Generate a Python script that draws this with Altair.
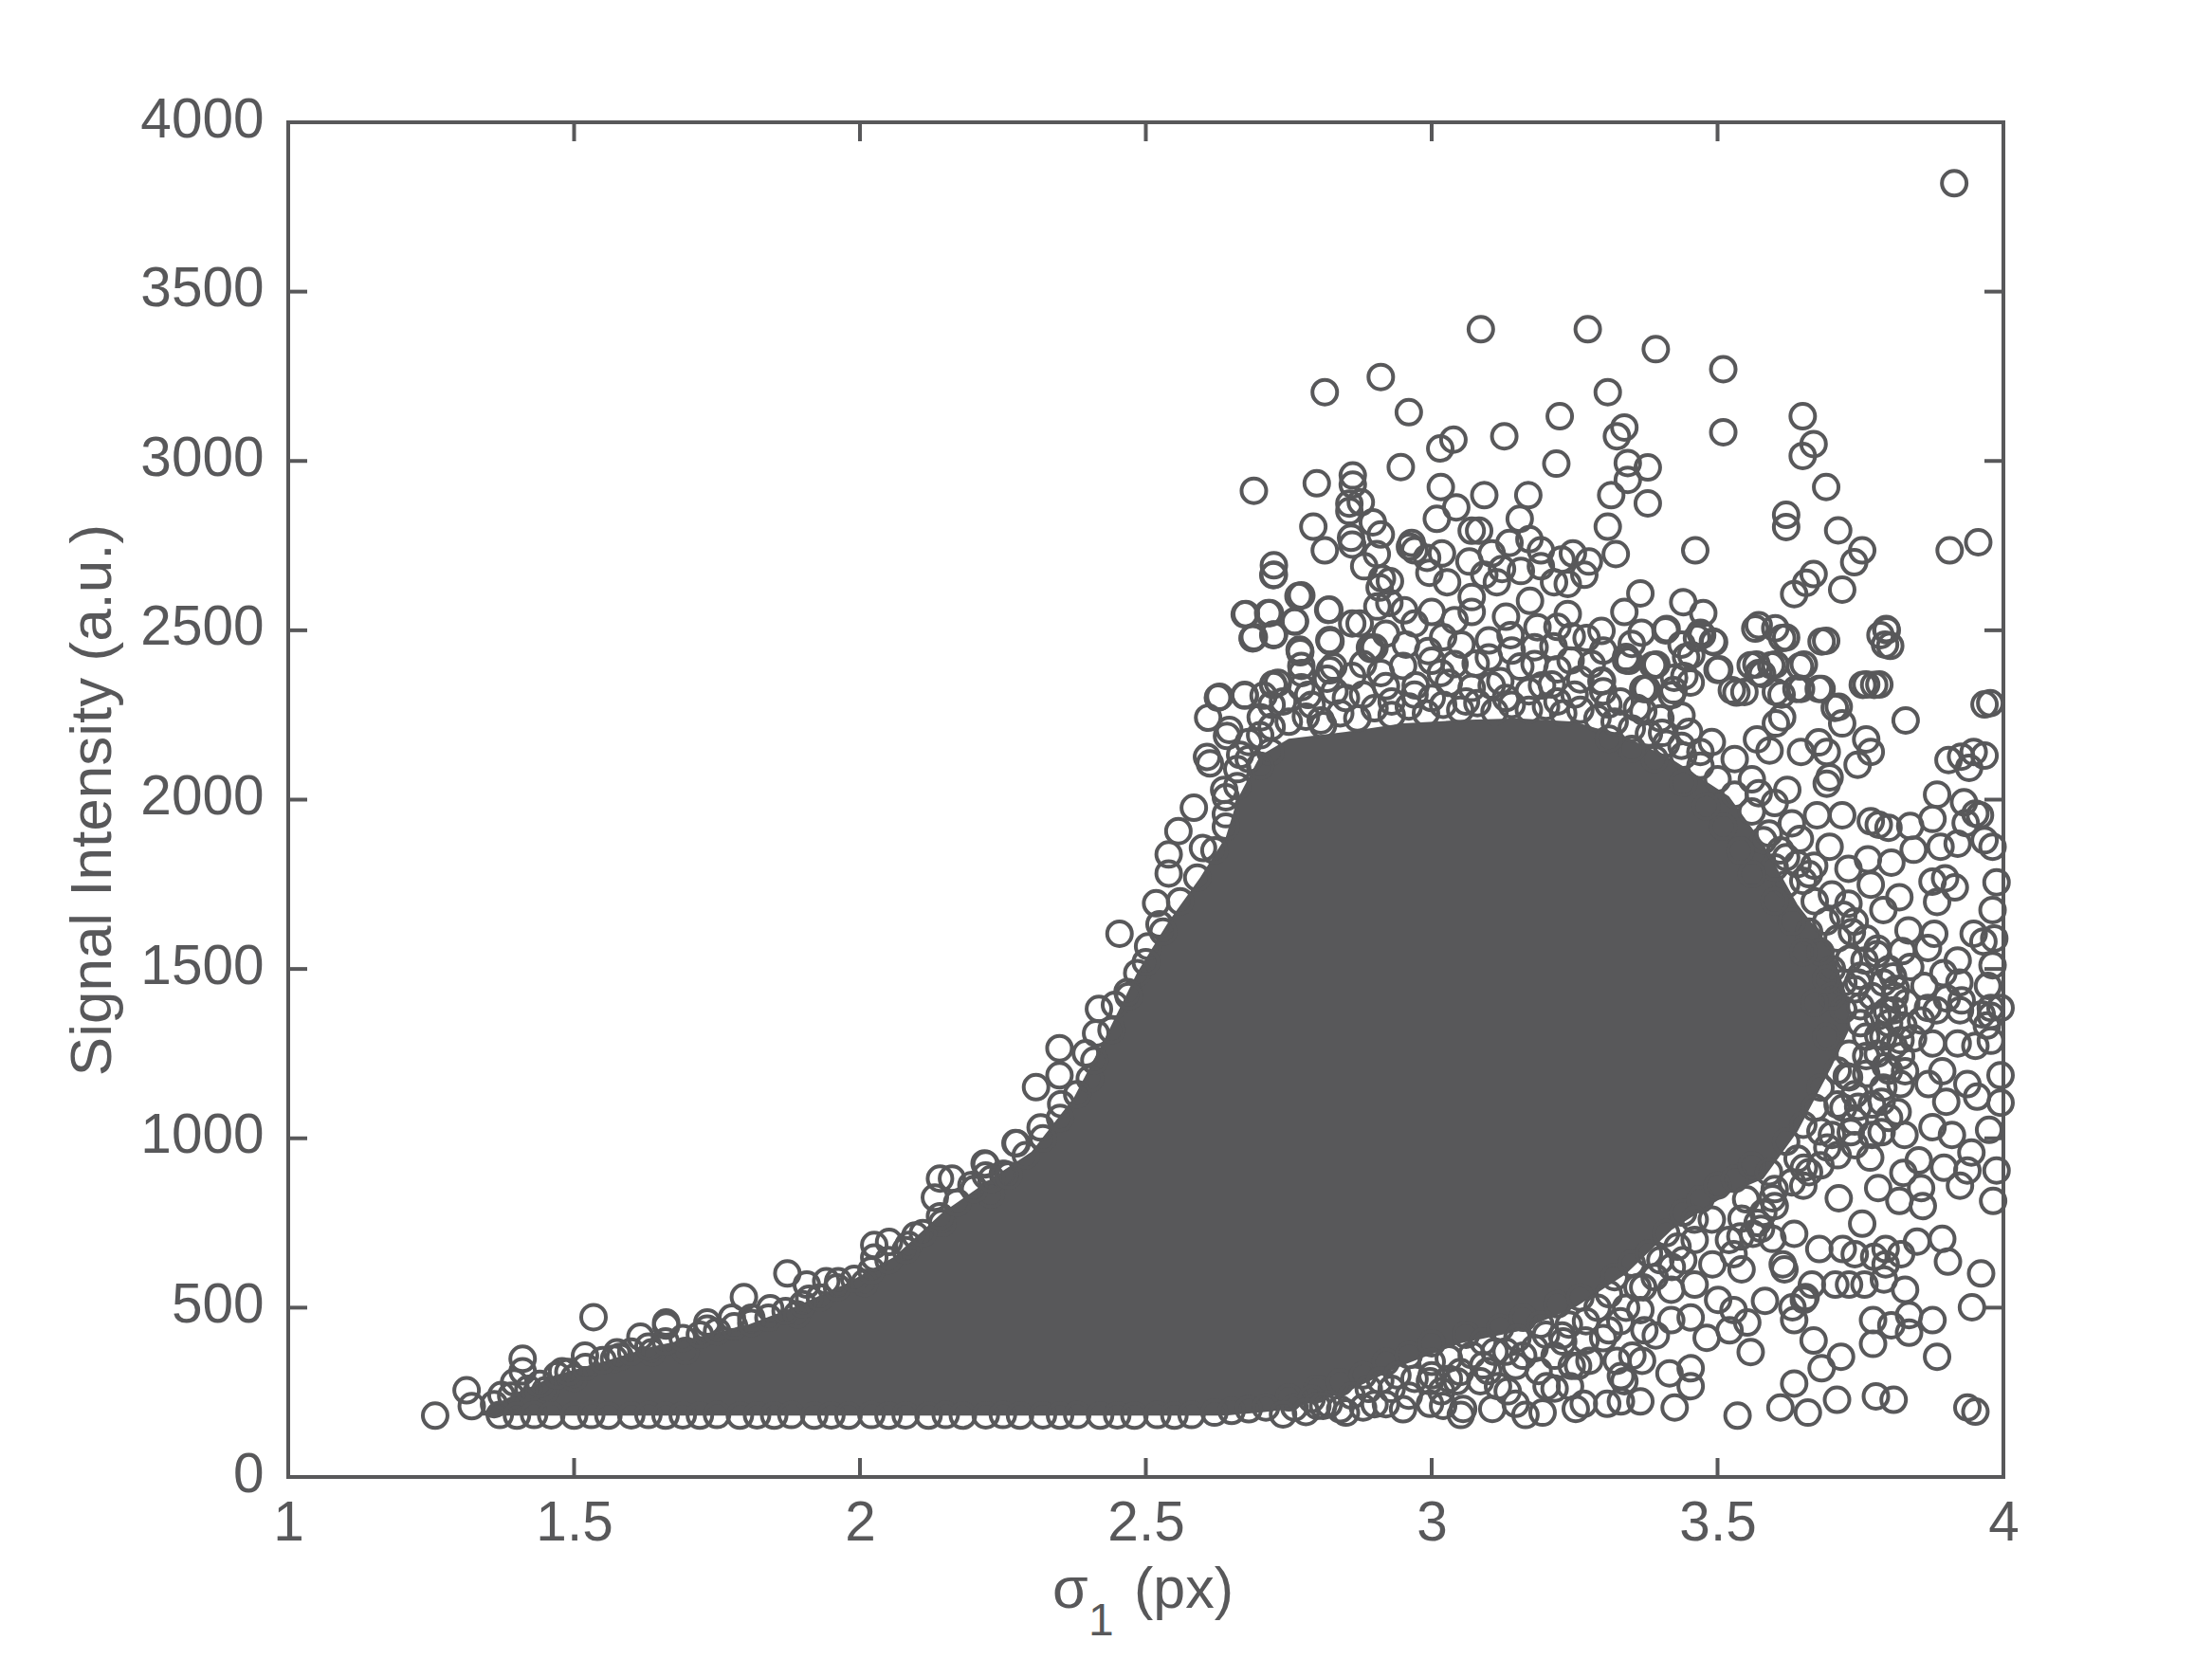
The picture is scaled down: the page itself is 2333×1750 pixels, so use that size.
import altair as alt
import pandas as pd

INK = "#58585A"
FONT = "Liberation Sans"

x_ticks = [1, 1.5, 2, 2.5, 3, 3.5, 4]
y_ticks = [0, 500, 1000, 1500, 2000, 2500, 3000, 3500, 4000]

# outline of the region where the rings merge into a solid mass
mass_x = [1.34, 1.38, 1.466, 1.55, 1.636, 1.72, 1.805, 1.89, 1.975, 2.06, 2.144, 2.229, 2.30, 2.374, 2.43, 2.485,
          2.54, 2.595, 2.64, 2.66, 2.70, 2.75, 2.85, 2.95, 3.05, 3.15, 3.25, 3.34, 3.42, 3.52, 3.58, 3.64, 3.70, 3.73]
mass_hi = [190, 230, 300, 340, 385, 415, 450, 505, 570, 650, 780, 880, 960, 1120, 1300, 1490,
           1640, 1770, 1890, 2000, 2130, 2180, 2200, 2225, 2235, 2240, 2230, 2185, 2120, 2010, 1870, 1690, 1560, 1395]
mass_lo = [181, 181, 181, 181, 181, 181, 181, 181, 181, 181, 181, 181, 181, 181, 181, 181,
           181, 181, 181, 185, 190, 200, 250, 330, 395, 430, 500, 600, 730, 838, 880, 1020, 1213, 1320]

top_points = [
    (3.914, 3820), (3.086, 3389), (3.273, 3389), (3.392, 3330), (3.51, 3271), (2.813, 3203), (2.911, 3248), (3.308, 3203),
    (2.96, 3144), (3.224, 3132), (3.127, 3073), (3.337, 3099), (3.324, 3073), (3.649, 3132), (3.51, 3085), (3.668, 3050),
    (3.649, 3015), (3.038, 3063), (3.015, 3037), (2.946, 2982), (3.218, 2992), (3.343, 2994), (3.378, 2981), (3.343, 2944),
    (2.862, 2957), (2.862, 2930), (2.689, 2912), (2.799, 2934), (3.016, 2923), (3.092, 2899), (3.169, 2899), (3.314, 2899),
    (3.378, 2875), (3.69, 2923), (2.856, 2874), (2.876, 2878), (2.856, 2852), (3.043, 2863), (3.009, 2829), (3.154, 2829),
    (3.62, 2841), (3.62, 2805), (3.711, 2795), (3.308, 2806), (2.793, 2806), (2.897, 2819), (2.911, 2783), (3.07, 2794),
    (3.083, 2794), (2.813, 2736), (2.859, 2773), (2.861, 2753), (2.965, 2758), (2.962, 2747), (3.753, 2736), (3.739, 2701),
    (3.668, 2666), (3.655, 2640), (3.634, 2607), (3.718, 2620), (3.906, 2736), (3.956, 2760), (3.461, 2736), (3.322, 2725),
    (3.018, 2727), (2.904, 2725), (2.882, 2689), (2.724, 2692), (2.724, 2664), (3.136, 2758), (3.171, 2769), (3.105, 2727),
    (3.066, 2703), (3.191, 2736), (3.247, 2727), (3.275, 2703), (3.227, 2709), (3.156, 2675), (3.191, 2689), (3.267, 2664),
    (3.238, 2637), (3.214, 2642), (3.114, 2642), (3.092, 2664), (3.123, 2681), (2.996, 2670), (3.027, 2642), (2.97, 2736),
    (2.992, 2714), (2.913, 2653), (2.909, 2626), (2.772, 2603), (2.675, 2548), (2.717, 2551), (2.689, 2480), (2.724, 2487),
    (2.76, 2526), (2.821, 2561), (2.821, 2471), (2.769, 2443), (2.874, 2520), (2.9, 2449), (2.926, 2581), (2.952, 2559),
    (3.0, 2554), (3.07, 2598), (3.07, 2554), (3.172, 2587), (3.185, 2509), (3.238, 2548), (3.245, 2482), (3.297, 2498),
    (3.337, 2554), (3.365, 2609), (3.367, 2493), (3.411, 2504), (3.44, 2583), (3.475, 2551), (3.47, 2493), (3.494, 2465),
    (3.345, 2410), (3.393, 2399), (3.454, 2427), (3.503, 2385), (3.572, 2515), (3.601, 2506), (3.62, 2479), (3.69, 2469),
    (3.795, 2504), (3.802, 2454), (3.651, 2399), (3.568, 2399), (3.601, 2399), (3.578, 2371), (3.682, 2327), (3.638, 2327),
    (3.76, 2340), (3.783, 2340), (3.977, 2285), (3.712, 2274), (3.612, 2310), (3.533, 2316), (3.424, 2360), (3.376, 2327),
    (3.297, 2349),
]

band_points = [
    (2.687, 2477), (2.723, 2486), (2.770, 2435), (2.823, 2467), (2.892, 2449), (2.955, 2458), (2.994, 2439), (3.052, 2458),
    (3.138, 2486), (3.213, 2453), (3.271, 2477), (3.340, 2411), (3.390, 2397), (3.373, 2327), (3.298, 2351), (3.437, 2458),
    (3.473, 2486), (3.442, 2365), (3.420, 2309), (3.437, 2248), (3.453, 2346), (2.629, 2304), (2.673, 2309), (2.723, 2341),
    (2.646, 2206), (2.773, 2374), (2.828, 2393), (2.861, 2365), (2.784, 2309), (2.701, 2243), (2.806, 2234), (2.718, 2141),
    (2.911, 2374), (2.972, 2337), (3.016, 2374), (3.077, 2402), (3.105, 2337), (3.155, 2393), (3.193, 2337), (3.243, 2411),
    (3.260, 2355), (3.309, 2281), (3.359, 2271), (3.403, 2197), (3.437, 2159), (3.470, 2141), (2.637, 2029),
    (2.85, 2300), (2.93, 2290), (3.0, 2300), (3.06, 2290), (3.13, 2300), (3.22, 2290),
]

right_points = [
    (3.409, 2500), (3.464, 2477), (3.492, 2467), (3.340, 2421), (3.387, 2397), (3.500, 2383), (3.445, 2421), (3.370, 2327),
    (3.423, 2323), (3.525, 2323), (3.547, 2318), (3.558, 2397), (3.594, 2397), (3.572, 2374), (3.644, 2393), (3.646, 2327),
    (3.677, 2327), (3.705, 2271), (3.718, 2225), (3.602, 2318), (3.613, 2243), (3.602, 2225), (3.754, 2339), (3.774, 2339),
    (3.829, 2234), (3.967, 2281), (3.682, 2467), (3.566, 2505), (3.613, 2477), (3.793, 2458), (3.785, 2486), (3.796, 2500),
    (3.760, 2178), (3.768, 2141), (3.745, 2103), (3.677, 2169), (3.691, 2141), (3.646, 2141), (3.696, 2066), (3.691, 2047),
    (3.591, 2145), (3.569, 2178), (3.572, 2019), (3.622, 2029), (3.904, 2117), (3.926, 2127), (3.948, 2141), (3.967, 2130),
    (3.940, 2094), (3.884, 2015), (3.931, 1992), (3.876, 1943), (3.959, 1954), (3.934, 1931), (3.951, 1959), (3.718, 1954),
    (3.674, 1954), (3.768, 1936), (3.782, 1926), (3.799, 1917), (3.837, 1922), (3.644, 1884), (3.696, 1861), (3.843, 1852),
    (3.890, 1861), (3.920, 1870), (3.967, 1880), (3.981, 1861), (3.804, 1814), (3.669, 1805), (3.729, 1796), (3.763, 1824),
    (3.768, 1749), (3.876, 1758), (3.898, 1768), (3.915, 1741), (3.884, 1698), (3.988, 1756), (3.981, 1674), (3.818, 1712),
    (3.729, 1693), (3.790, 1674), (3.735, 1609), (3.834, 1614), (3.879, 1604), (3.948, 1604), (3.965, 1581), (3.984, 1590),
    (3.779, 1544), (3.823, 1553), (3.868, 1562), (3.757, 1525), (3.807, 1478), (3.837, 1506), (3.920, 1525), (3.895, 1488),
    (3.862, 1450), (3.981, 1511), (3.973, 1450), (3.923, 1460), (3.901, 1413), (3.812, 1441), (3.746, 1460), (3.868, 1385),
    (3.796, 1376), (3.978, 1385), (3.962, 1366), (3.995, 1385), (3.978, 1362), (3.971, 1333), (3.978, 1288), (3.951, 1273),
    (3.92, 1280), (3.927, 1407), (3.924, 1378), (3.883, 1378), (3.876, 1280), (3.842, 1295), (3.825, 1333), (3.856, 1348),
    (3.808, 1378), (3.781, 1303), (3.821, 1243), (3.794, 1213), (3.995, 1186), (3.995, 1105), (3.937, 1160), (3.954, 1123),
    (3.9, 1108), (3.893, 1198), (3.869, 1160), (3.828, 1198),
]

lower_right_points = [
    (3.975, 1025), (3.988, 905), (3.982, 815), (3.924, 860), (3.944, 958), (3.937, 905), (3.896, 913), (3.876, 1033),
    (3.91, 1010), (3.827, 1010), (3.852, 935), (3.825, 898), (3.856, 853), (3.859, 800), (3.818, 815), (3.893, 703),
    (3.903, 636), (3.849, 695), (3.821, 658), (3.961, 601), (3.945, 501), (3.828, 553), (3.791, 583), (3.757, 568),
    (3.73, 568), (3.876, 463), (3.835, 478), (3.804, 448), (3.772, 463), (3.772, 393), (3.835, 426), (3.884, 355),
    (3.716, 355), (3.682, 321), (3.668, 403), (3.634, 463), (3.654, 531), (3.631, 501), (3.558, 369), (3.634, 276),
    (3.61, 205), (3.658, 190), (3.709, 228), (3.777, 238), (3.808, 228), (3.937, 205), (3.951, 193), (3.535, 181),
    (3.425, 205), (3.453, 321), (3.453, 268), (3.416, 306), (3.583, 520), (3.552, 456), (3.521, 433), (3.481, 411),
    (3.614, 628), (3.617, 613), (3.542, 613), (3.576, 733), (3.634, 718), (3.678, 673), (3.74, 658), (3.774, 650),
    (3.794, 673), (3.368, 343), (3.365, 223), (3.331, 298), (3.331, 223), (3.307, 216), (3.252, 201), (3.266, 216),
    (3.194, 190), (3.164, 183), (3.147, 216), (3.106, 201), (3.055, 201), (3.051, 183), (2.997, 216), (3.276, 343),
    (3.245, 328), (3.215, 261), (3.16, 358), (3.187, 313), (3.116, 268), (3.228, 418), (3.017, 253), (3.085, 283),
    (3.133, 253), (3.201, 268), (3.256, 328), (3.242, 268), (3.324, 343), (3.351, 358), (3.337, 283), (3.372, 433),
    (3.419, 463), (3.392, 418), (3.453, 471), (3.501, 523), (3.528, 493), (3.491, 628), (3.528, 658), (3.562, 718),
    (3.596, 703), (3.665, 568), (3.651, 523), (3.706, 568), (3.719, 673), (3.753, 748), (3.794, 628), (3.712, 823),
    (3.781, 853), (3.787, 1018), (3.767, 943), (3.746, 1093), (3.787, 1108), (3.726, 1183), (3.815, 1078), (3.76, 1243),
    (3.808, 1273), (3.733, 1018), (3.692, 973), (3.651, 913), (3.596, 823), (3.542, 763), (3.46, 568), (3.419, 553),
    (3.365, 493), (3.31, 433), (3.269, 403), (3.215, 358), (3.147, 328), (3.099, 313), (3.044, 283), (2.997, 283),
]

left_edge_points = [
    (1.257, 181), (1.312, 256), (1.321, 209), (1.373, 242), (1.410, 349), (1.41, 312), (1.395, 279), (1.479, 312),
    (1.5, 293), (1.519, 358), (1.534, 472), (1.575, 368), (1.57, 349), (1.616, 414), (1.661, 456), (1.661, 447),
    (1.733, 456), (1.733, 438), (1.797, 531), (1.843, 498), (1.776, 470), (1.81, 470), (1.873, 601), (1.907, 568),
    (1.941, 578), (1.962, 578), (1.911, 526), (2.008, 573), (2.025, 685), (2.051, 694), (2.025, 648), (2.097, 713),
    (2.085, 685), (2.131, 825), (2.14, 881), (2.161, 881), (2.144, 750), (2.22, 923), (2.22, 890), (2.25, 895),
    (2.274, 985), (2.195, 862), (2.229, 834), (1.45, 256), (1.636, 368), (1.695, 372), (1.89, 480),
    (2.349, 1266), (2.349, 1186), (2.308, 1151), (2.272, 986), (2.218, 926), (2.253, 894), (2.316, 1032), (2.352, 1101),
    (2.402, 1176), (2.413, 1310), (2.418, 1382), (2.395, 1251), (2.446, 1394), (2.454, 1604), (2.504, 1567), (2.485, 1488),
    (2.468, 1432), (2.518, 1694), (2.524, 1632), (2.54, 1838), (2.557, 1907), (2.584, 1976), (2.54, 1782), (2.612, 2107),
    (2.607, 2126), (2.626, 2301), (2.609, 2242), (2.642, 2188), (2.673, 2307), (2.723, 2338), (2.731, 2345), (2.673, 2547),
    (2.714, 2551), (2.687, 2476), (2.724, 2488), (2.767, 2601), (2.761, 2526), (2.819, 2560), (2.77, 2438), (2.822, 2470),
    (2.861, 2520), (2.894, 2445), (2.905, 2570), (2.723, 2663), (2.927, 2645), (2.64, 1957), (2.6, 1857), (2.64, 2007),
    (2.665, 2132), (2.706, 2307), (2.772, 2332), (2.817, 2357), (2.772, 2395), (2.822, 2382),
]

# rings hugging the edge of the solid mass
fringe_left = [
    (1.36, 215), (1.39, 240), (1.42, 260), (1.44, 275), (1.47, 300), (1.49, 310), (1.52, 325), (1.55, 345), (1.58, 355),
    (1.6, 370), (1.63, 385), (1.66, 400), (1.69, 410), (1.72, 420), (1.75, 430), (1.78, 445), (1.81, 455), (1.84, 470),
    (1.87, 490), (1.9, 510), (1.93, 530), (1.96, 560), (1.99, 585), (2.02, 610), (2.05, 640), (2.08, 670), (2.11, 720),
    (2.14, 770), (2.17, 810), (2.2, 850), (2.23, 880), (2.26, 890), (2.29, 950), (2.32, 1000), (2.35, 1060), (2.38, 1130),
    (2.41, 1230), (2.44, 1320), (2.47, 1420), (2.5, 1520), (2.53, 1610), (2.56, 1700), (2.59, 1770), (2.62, 1850),
    (2.64, 1920), (2.66, 2040), (2.68, 2120), (2.7, 2190), (2.68, 2170), (2.70, 2100), (2.66, 2090), (2.72, 2280),
]
fringe_top = [
    (2.72, 2215), (2.75, 2230), (2.78, 2245), (2.81, 2220), (2.84, 2255), (2.87, 2240), (2.9, 2270), (2.93, 2250),
    (2.96, 2275), (2.99, 2255), (3.02, 2280), (3.05, 2265), (3.08, 2285), (3.11, 2260), (3.14, 2280), (3.17, 2265),
    (3.2, 2275), (3.23, 2255), (3.26, 2265), (3.29, 2240), (3.32, 2230), (3.35, 2210), (3.38, 2195), (3.41, 2165),
    (3.44, 2130), (3.47, 2100), (3.5, 2060), (3.53, 2015), (3.56, 1965), (3.59, 1900),
    (2.74, 2290), (2.79, 2280), (2.83, 2320), (2.88, 2310), (2.92, 2335), (2.97, 2310), (3.03, 2345), (3.07, 2330),
    (3.12, 2350), (3.17, 2320), (3.21, 2340), (3.25, 2310), (3.3, 2320), (3.33, 2290), (3.37, 2260), (3.4, 2240),
    (3.45, 2200), (3.49, 2170), (3.53, 2120), (3.56, 2060), (3.6, 1990), (3.63, 1930),
    (2.95, 2395), (3.0, 2410), (3.04, 2400), (3.1, 2420), (3.14, 2440), (3.18, 2400), (3.22, 2385), (3.28, 2400),
    (2.88, 2400), (2.92, 2490), (3.02, 2480), (3.1, 2470), (3.18, 2450), (3.3, 2440), (3.35, 2460), (2.97, 2520),
    (3.04, 2530), (3.13, 2540), (3.22, 2510),
]
fringe_right = [
    (3.62, 1830), (3.65, 1760), (3.67, 1700), (3.69, 1640), (3.71, 1590), (3.73, 1530), (3.75, 1480), (3.77, 1420),
    (3.78, 1360), (3.76, 1300), (3.78, 1250), (3.76, 1190), (3.74, 1130), (3.72, 1090), (3.74, 1050), (3.7, 1010),
    (3.71, 1100), (3.73, 1250), (3.75, 1340), (3.72, 1460), (3.7, 1500), (3.66, 1610), (3.68, 1550), (3.62, 1750),
    (3.6, 1800), (3.75, 1390), (3.69, 1300), (3.71, 1200),
    (3.58, 1880), (3.61, 1850), (3.64, 1810), (3.66, 1780), (3.7, 1720), (3.72, 1660), (3.74, 1640), (3.76, 1590),
    (3.78, 1560), (3.8, 1500), (3.79, 1460), (3.81, 1420), (3.83, 1400), (3.8, 1340), (3.79, 1300), (3.82, 1290),
    (3.8, 1200), (3.82, 1160), (3.79, 1150), (3.77, 1100), (3.8, 1060), (3.77, 1010), (3.74, 980), (3.71, 950),
    (3.68, 920), (3.66, 900), (3.63, 870), (3.6, 800), (3.57, 750), (3.54, 710), (3.72, 1380), (3.74, 1440), (3.7, 1420),
    (3.73, 1180), (3.68, 1150), (3.67, 1400), (3.69, 1470), (3.65, 1550), (3.63, 1640), (3.6, 1700), (3.56, 1780),
    (3.54, 1850), (3.51, 1920), (3.48, 1980), (3.44, 2050), (3.39, 2120), (3.35, 2150), (3.31, 2180),
]
fringe_low = [
    (2.75, 235), (2.8, 260), (2.84, 280), (2.88, 300), (2.92, 340), (2.96, 360), (3.0, 395), (3.03, 350), (3.06, 420),
    (3.09, 400), (3.12, 440), (3.16, 470), (3.19, 450), (3.22, 510), (3.26, 530), (3.29, 500), (3.32, 590), (3.35, 630),
    (3.38, 660), (3.41, 720), (3.44, 780), (3.47, 820), (3.5, 860), (3.53, 880), (3.56, 920), (3.59, 900), (3.62, 990),
    (3.65, 1040), (3.67, 1090), (2.8, 210), (2.84, 200), (2.9, 215), (2.93, 260), (2.96, 240), (3.0, 300), (3.05, 310),
    (3.09, 330), (3.02, 210), (3.13, 370), (3.18, 380), (3.24, 450), (3.3, 410), (3.34, 500), (3.4, 640), (3.44, 640),
    (3.49, 760), (3.55, 820), (3.6, 850), (3.64, 940), (3.68, 1020), (3.65, 860), (3.58, 780), (3.52, 700), (3.46, 700),
    (3.42, 620), (3.37, 560),
    (2.76, 205), (2.79, 230), (2.82, 215), (2.86, 240), (2.89, 260), (2.91, 285), (2.94, 300), (2.97, 290), (3.0, 340),
    (3.03, 290), (3.07, 360), (3.11, 370), (3.15, 410), (3.2, 420), (3.23, 400), (3.27, 460), (3.31, 540), (3.33, 460),
    (3.36, 560), (3.39, 590), (3.43, 680), (3.46, 760),
]

floor_x = [1.37, 1.40, 1.43, 1.46, 1.5, 1.53, 1.56, 1.6, 1.63, 1.66, 1.69, 1.72, 1.75, 1.79, 1.82, 1.85, 1.88, 1.92,
           1.95, 1.98, 2.02, 2.05, 2.08, 2.12, 2.15, 2.18, 2.22, 2.25, 2.28, 2.32, 2.35, 2.38, 2.42, 2.45, 2.48, 2.52,
           2.55, 2.58, 2.62, 2.65, 2.68, 2.71, 2.74, 2.78, 2.81, 2.85, 2.88, 2.92, 2.95]
floor_y = [183, 181, 183, 182, 181, 183, 181, 182, 183, 181, 182, 181, 183, 181, 182, 181, 183, 181,
           182, 181, 183, 181, 182, 181, 183, 181, 182, 183, 181, 182, 181, 183, 181, 182, 181, 183,
           181, 183, 190, 195, 200, 205, 185, 192, 210, 190, 205, 215, 200]

pts = (top_points + band_points + right_points + lower_right_points + left_edge_points
       + fringe_left + fringe_top + fringe_right + fringe_low + list(zip(floor_x, floor_y)))
points = pd.DataFrame(pts, columns=["sigma", "signal"])
mass = pd.DataFrame({"sigma": mass_x, "hi": mass_hi, "lo": mass_lo})

W, H = 1809, 1429
x_scale = alt.Scale(domain=[1, 4], nice=False, zero=False)
y_scale = alt.Scale(domain=[0, 4000], nice=False, zero=True)

x_axis = alt.Axis(
    values=x_ticks, format="~g", ticks=False, domain=False, grid=False, labelFont=FONT, labelFontSize=58.5,
    labelColor=INK, labelPadding=20, labelAngle=0, labelFlush=False, labelOverlap=False, title=None,
)
y_axis = alt.Axis(
    values=y_ticks, format="d", ticks=False, domain=False, grid=False, labelFont=FONT, labelFontSize=58.5,
    labelColor=INK, labelPadding=26, labelOffset=-3, labelFlush=False, labelOverlap=False,
    title="Signal Intensity (a.u.)", titleFont=FONT, titleFontSize=62, titleFontWeight="normal",
    titleColor=INK, titlePadding=18,
)

mass_layer = alt.Chart(mass).mark_area(color=INK, clip=False).encode(
    x=alt.X("sigma:Q", scale=x_scale, axis=x_axis),
    y=alt.Y("lo:Q", scale=y_scale, axis=y_axis),
    y2="hi:Q",
)
ring_layer = alt.Chart(points).mark_point(
    shape="circle", filled=False, size=676, stroke=INK, strokeWidth=4, opacity=1, clip=False
).encode(
    x=alt.X("sigma:Q", scale=x_scale),
    y=alt.Y("signal:Q", scale=y_scale),
)

tx = pd.DataFrame({"v": x_ticks[1:-1]})
ty = pd.DataFrame({"v": y_ticks[1:-1]})
tick_x_bottom = alt.Chart(tx).mark_rule(color=INK, strokeWidth=4).encode(
    x=alt.X("v:Q", scale=x_scale), y=alt.value(H), y2=alt.value(H - 20))
tick_x_top = alt.Chart(tx).mark_rule(color=INK, strokeWidth=4).encode(
    x=alt.X("v:Q", scale=x_scale), y=alt.value(0), y2=alt.value(20))
tick_y_left = alt.Chart(ty).mark_rule(color=INK, strokeWidth=4).encode(
    y=alt.Y("v:Q", scale=y_scale), x=alt.value(0), x2=alt.value(20))
tick_y_right = alt.Chart(ty).mark_rule(color=INK, strokeWidth=4).encode(
    y=alt.Y("v:Q", scale=y_scale), x=alt.value(W), x2=alt.value(W - 20))


def title_piece(text, left, base, size):
    return alt.Chart(pd.DataFrame({"t": [text]})).mark_text(
        font=FONT, fontSize=size, color=INK, align="left", baseline="alphabetic"
    ).encode(text="t:N", x=alt.value(left), y=alt.value(base))


sigma_part = title_piece("σ", 806, 1567, 61)
sub_part = title_piece("1", 844, 1596, 48)
px_part = title_piece("(px)", 892, 1567, 61)

chart = alt.layer(
    mass_layer, ring_layer, tick_x_bottom, tick_x_top, tick_y_left, tick_y_right,
    sigma_part, sub_part, px_part,
).properties(
    width=W, height=H, background="white",
    padding={"left": 296, "top": 121, "right": 200, "bottom": 190},
    autosize=alt.AutoSizeParams(type="none"),
).configure_view(stroke=INK, strokeWidth=4, fill=None)

chart.save("out.html", embed_options={"renderer": "svg", "actions": False})
